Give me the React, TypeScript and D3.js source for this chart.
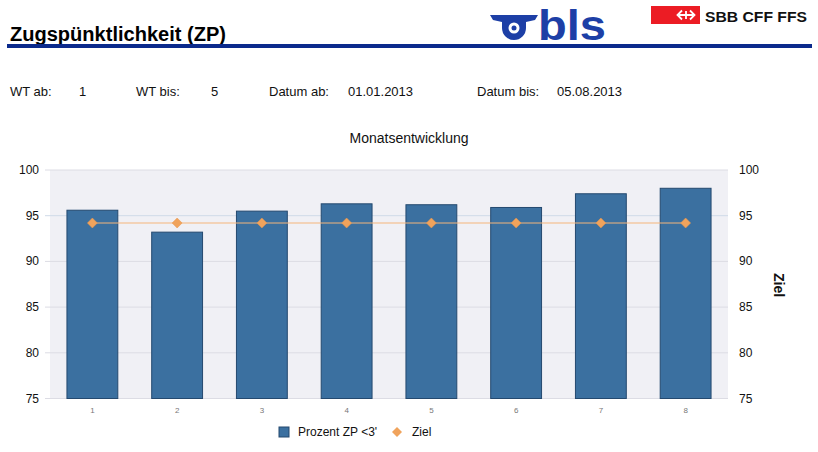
import React from "react";
import * as d3 from "d3";

const categories = ["1", "2", "3", "4", "5", "6", "7", "8"];
const prozent = [95.6, 93.2, 95.5, 96.3, 96.2, 95.9, 97.4, 98.0];
const ziel = [94.2, 94.2, 94.2, 94.2, 94.2, 94.2, 94.2, 94.2];
const yTicks = [75, 80, 85, 90, 95, 100];

const FONT = "'Liberation Sans', Arial, sans-serif";

export default function App() {
  const W = 818, H = 452;
  const left = 50, right = 728, top = 170, bottom = 398.5;
  const x = d3.scaleBand<string>().domain(categories).range([left, right]).paddingInner(0.4).paddingOuter(0.2);
  const y = d3.scaleLinear().domain([75, 100]).range([bottom, top]);
  const line = d3.line<number>()
    .x((_, i) => (x(categories[i]) as number) + x.bandwidth() / 2)
    .y((d) => y(d));
  const diamondSq = "M0,-5L5,0L0,5L-5,0Z";

  return (
    <svg width={W} height={H} style={{ position: "absolute", left: 0, top: 0, display: "block" }} fontFamily={FONT}>
      <rect width={W} height={H} fill="#fff" />
      {/* Header */}
      <text x={10} y={41} fontSize={20} fontWeight="bold" fill="#000" textLength={216} lengthAdjust="spacingAndGlyphs">Zugspünktlichkeit (ZP)</text>
      <rect x={7} y={44} width={805} height={4} fill="#0b2a8c" />
      {/* BLS logo */}
      <g fill="#1d3fa6">
        <path d="M490,15 L538,15 L535,20 L526,22 L526,28 A12,12 0 0 1 502,28 L502,22 L493,20 Z" />
        <circle cx={514} cy={28} r={5.5} fill="#fff" />
        <circle cx={514} cy={28} r={2.5} fill="#1d3fa6" />
        <text x={538} y={40} fontSize={42} fontWeight="bold" textLength={68} lengthAdjust="spacingAndGlyphs">bls</text>
      </g>
      {/* SBB logo */}
      <rect x={651} y={6} width={49} height={18} fill="#ec1c24" />
      <g fill="none" stroke="#fff" strokeWidth={1.8}>
        <path d="M682,10.5 L677.5,15 L682,19.5 M690,10.5 L694.5,15 L690,19.5 M679,15 L693,15 M686,11 L686,19" />
      </g>
      <text x={705} y={22} fontSize={14.5} fontWeight="bold" fill="#111" textLength={102} lengthAdjust="spacingAndGlyphs">SBB CFF FFS</text>

      {/* Info line */}
      <g fontSize={13} fill="#111">
        <text x={10} y={96}>WT ab:</text>
        <text x={79} y={96}>1</text>
        <text x={136} y={96}>WT bis:</text>
        <text x={211} y={96}>5</text>
        <text x={269} y={96}>Datum ab:</text>
        <text x={348} y={96}>01.01.2013</text>
        <text x={477} y={96}>Datum bis:</text>
        <text x={557} y={96}>05.08.2013</text>
      </g>

      {/* Chart title */}
      <text x={409} y={143} fontSize={14} textAnchor="middle" fill="#111">Monatsentwicklung</text>

      {/* Plot background */}
      <rect x={left} y={top} width={right - left} height={bottom - top} fill="#f0f0f5" />
      {yTicks.map((t) => (
        <line key={t} x1={left - 5} x2={right} y1={y(t)} y2={y(t)} stroke={t === 95 ? "#cfdbe8" : "#dcdce4"} strokeWidth={1} />
      ))}
      {/* Bars */}
      {prozent.map((v, i) => (
        <rect key={i} x={x(categories[i])} y={y(v)} width={x.bandwidth()} height={bottom - y(v)}
          fill="#3b70a0" stroke="#24496f" strokeWidth={1} />
      ))}
      {/* Ziel line */}
      <path d={line(ziel) || ""} fill="none" stroke="#f5b57a" strokeWidth={1} />
      {ziel.map((v, i) => (
        <path key={i} d={diamondSq} transform={`translate(${(x(categories[i]) as number) + x.bandwidth() / 2},${y(v)})`}
          fill="#f0a35c" stroke="#e8954a" strokeWidth={0.5} />
      ))}
      {/* Axes labels */}
      <g fontSize={12} fill="#111">
        {yTicks.map((t) => (
          <text key={"l" + t} x={39} y={y(t) + 4} textAnchor="end">{t}</text>
        ))}
        {yTicks.map((t) => (
          <text key={"r" + t} x={739} y={y(t) + 4}>{t}</text>
        ))}
      </g>
      <g fontSize={8} fill="#777">
        {categories.map((c) => (
          <text key={c} x={(x(c) as number) + x.bandwidth() / 2} y={413} textAnchor="middle">{c}</text>
        ))}
      </g>
      <text transform="translate(774,285) rotate(90)" fontSize={14} fontWeight="bold" textAnchor="middle" fill="#111">Ziel</text>

      {/* Legend */}
      <rect x={279} y={427} width={10} height={10} fill="#3b70a0" stroke="#24496f" strokeWidth={1} />
      <text x={298} y={436} fontSize={12} fill="#111">Prozent ZP &lt;3'</text>
      <path d={diamondSq} transform="translate(397,432)" fill="#f0a35c" />
      <text x={412} y={436} fontSize={12} fill="#111">Ziel</text>
    </svg>
  );
}
